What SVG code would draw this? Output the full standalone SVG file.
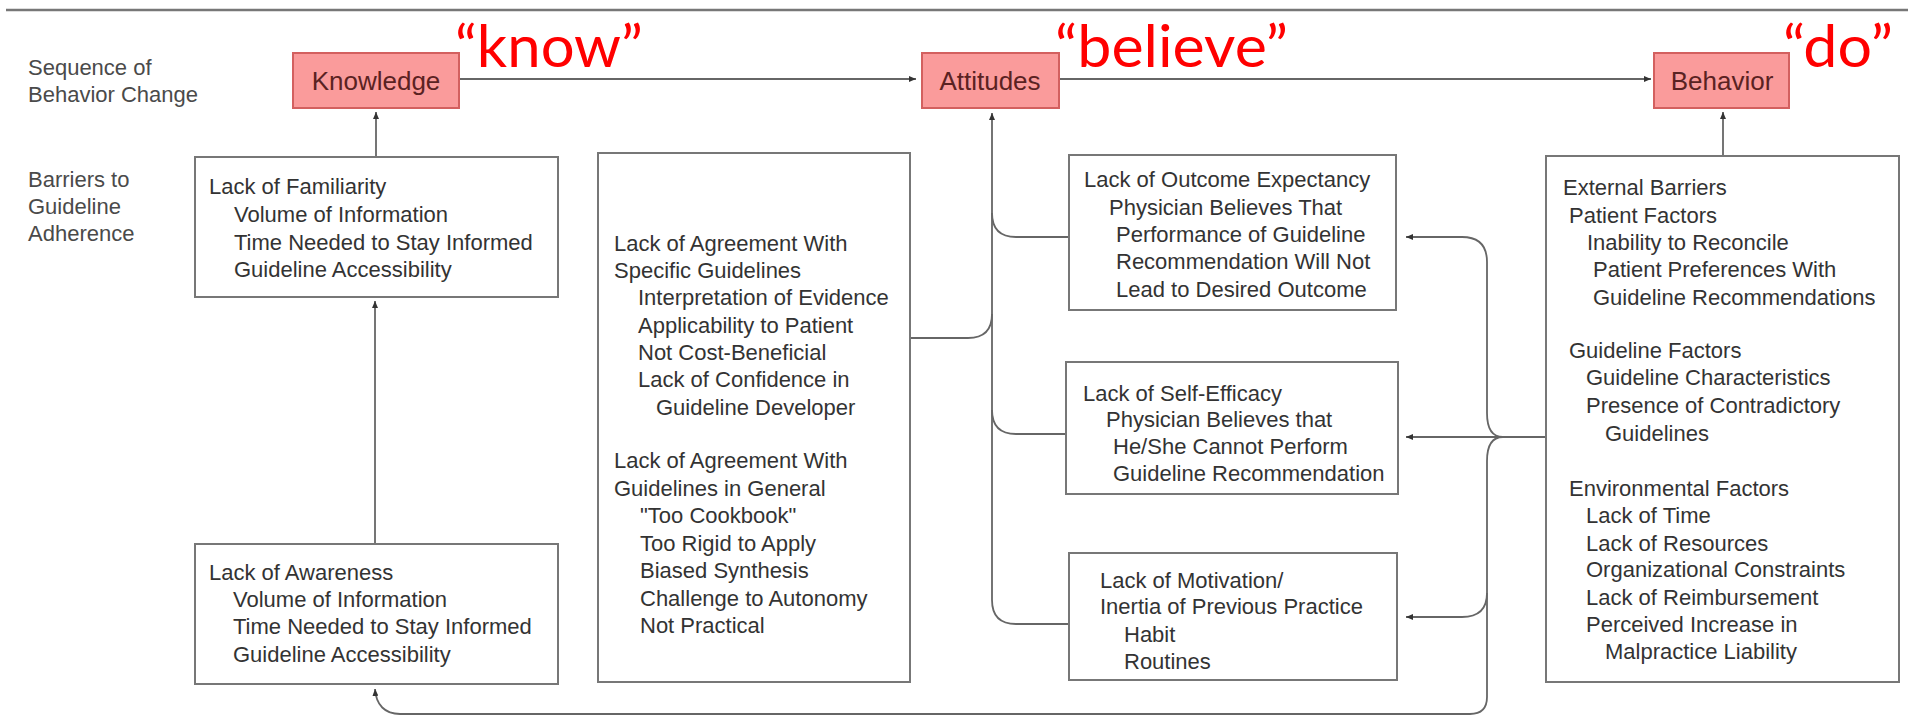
<svg xmlns="http://www.w3.org/2000/svg" width="1915" height="721" viewBox="0 0 1915 721">
  <defs>
    <marker id="arrow" markerUnits="userSpaceOnUse" markerWidth="8" markerHeight="6" refX="7" refY="3" orient="auto">
      <path d="M0,0 L7,3 L0,6 z" fill="#333"/>
    </marker>
    <style>
      .stage rect { fill: #fa9b9b; stroke: #d3605f; stroke-width: 2; }
      .stage text { font-family: "Liberation Sans", Arial, sans-serif; font-size: 26px; fill: #5a2222; text-anchor: middle; }
      .barrier rect { fill: #ffffff; stroke: #777777; stroke-width: 2; }
      .barrier text, .side { font-family: "Liberation Sans", Arial, sans-serif; font-size: 22px; fill: #333333; }
      .side { fill: #4a4a4a; }
      .conn path { fill: none; stroke: #666666; stroke-width: 1.8; }
      .conn .arr { marker-end: url(#arrow); }
      .word { font-family: Lato, "Noto Sans", sans-serif; font-size: 58px; fill: #ff0000; }
    </style>
  </defs>

  <rect width="1915" height="721" fill="#ffffff"/>
  <!-- header rule -->
  <line x1="6" y1="10" x2="1908" y2="10" stroke="#777777" stroke-width="2.5"/>

  <!-- row labels -->
  <text class="side" x="28" y="75">Sequence of</text>
  <text class="side" x="28" y="102">Behavior Change</text>
  <text class="side" x="28" y="187">Barriers to</text>
  <text class="side" x="28" y="214">Guideline</text>
  <text class="side" x="28" y="241">Adherence</text>

  <!-- connectors -->
  <g id="connectors" class="conn">
    <path class="arr" d="M459,79 H916"/>
    <path class="arr" d="M1059,79 H1651"/>
    <path class="arr" d="M376,157 V112"/>
    <path class="arr" d="M375,544 V301"/>
    <path class="arr" d="M1723,156 V112"/>
    <!-- attitudes collector -->
    <path class="arr" d="M1069,624 H1016 Q992,624 992,600 V113"/>
    <path d="M1069,237 H1016 Q992,237 992,213"/>
    <path d="M1066,434 H1016 Q992,434 992,410"/>
    <path d="M910,338 H968 Q992,338 992,314"/>
    <!-- external barriers fan-out -->
    <path class="arr" d="M1546,437 H1406"/>
    <path class="arr" d="M1503,437 C1490,437 1487,425 1487,413 V262 Q1487,237 1462,237 H1406"/>
    <path class="arr" d="M1487,593 Q1487,617 1462,617 H1406"/>
    <path class="arr" d="M1503,437 C1490,437 1487,449 1487,461 V697 Q1487,714 1470,714 H400 C385,714 376,705 375,689"/>
  </g>

  <!-- sequence stages -->
  <g id="knowledge" class="stage">
    <rect x="293" y="53" width="166" height="55"/>
    <text x="376" y="90">Knowledge</text>
  </g>
  <g id="attitudes" class="stage">
    <rect x="922" y="53" width="137" height="55"/>
    <text x="990" y="90">Attitudes</text>
  </g>
  <g id="behavior" class="stage">
    <rect x="1654" y="53" width="135" height="55"/>
    <text x="1722" y="90">Behavior</text>
  </g>

  <!-- annotations -->
  <text class="word" x="455" y="67" textLength="188" lengthAdjust="spacingAndGlyphs">“know”</text>
  <text class="word" x="1055" y="67" textLength="233" lengthAdjust="spacingAndGlyphs">“believe”</text>
  <text class="word" x="1783" y="67" textLength="110" lengthAdjust="spacingAndGlyphs">“do”</text>

  <!-- barriers -->
  <g id="familiarity" class="barrier">
    <rect x="195" y="157" width="363" height="140"/>
    <text x="209" y="194">Lack of Familiarity</text>
    <text x="234" y="222">Volume of Information</text>
    <text x="234" y="250">Time Needed to Stay Informed</text>
    <text x="234" y="277">Guideline Accessibility</text>
  </g>
  <g id="awareness" class="barrier">
    <rect x="195" y="544" width="363" height="140"/>
    <text x="209" y="580">Lack of Awareness</text>
    <text x="233" y="607">Volume of Information</text>
    <text x="233" y="634">Time Needed to Stay Informed</text>
    <text x="233" y="662">Guideline Accessibility</text>
  </g>
  <g id="agreement" class="barrier">
    <rect x="598" y="153" width="312" height="529"/>
    <text x="614" y="251">Lack of Agreement With</text>
    <text x="614" y="278">Specific Guidelines</text>
    <text x="638" y="305">Interpretation of Evidence</text>
    <text x="638" y="333">Applicability to Patient</text>
    <text x="638" y="360">Not Cost-Beneficial</text>
    <text x="638" y="387">Lack of Confidence in</text>
    <text x="656" y="415">Guideline Developer</text>
    <text x="614" y="468">Lack of Agreement With</text>
    <text x="614" y="496">Guidelines in General</text>
    <text x="640" y="523">"Too Cookbook"</text>
    <text x="640" y="551">Too Rigid to Apply</text>
    <text x="640" y="578">Biased Synthesis</text>
    <text x="640" y="606">Challenge to Autonomy</text>
    <text x="640" y="633">Not Practical</text>
  </g>
  <g id="outcome" class="barrier">
    <rect x="1069" y="155" width="327" height="155"/>
    <text x="1084" y="187">Lack of Outcome Expectancy</text>
    <text x="1109" y="215">Physician Believes That</text>
    <text x="1116" y="242">Performance of Guideline</text>
    <text x="1116" y="269">Recommendation Will Not</text>
    <text x="1116" y="297">Lead to Desired Outcome</text>
  </g>
  <g id="self-efficacy" class="barrier">
    <rect x="1066" y="362" width="332" height="132"/>
    <text x="1083" y="401">Lack of Self-Efficacy</text>
    <text x="1106" y="427">Physician Believes that</text>
    <text x="1113" y="454">He/She Cannot Perform</text>
    <text x="1113" y="481">Guideline Recommendation</text>
  </g>
  <g id="motivation" class="barrier">
    <rect x="1069" y="553" width="328" height="127"/>
    <text x="1100" y="588">Lack of Motivation/</text>
    <text x="1100" y="614">Inertia of Previous Practice</text>
    <text x="1124" y="642">Habit</text>
    <text x="1124" y="669">Routines</text>
  </g>
  <g id="external" class="barrier">
    <rect x="1546" y="156" width="353" height="526"/>
    <text x="1563" y="195">External Barriers</text>
    <text x="1569" y="223">Patient Factors</text>
    <text x="1587" y="250">Inability to Reconcile</text>
    <text x="1593" y="277">Patient Preferences With</text>
    <text x="1593" y="305">Guideline Recommendations</text>
    <text x="1569" y="358">Guideline Factors</text>
    <text x="1586" y="385">Guideline Characteristics</text>
    <text x="1586" y="413">Presence of Contradictory</text>
    <text x="1605" y="441">Guidelines</text>
    <text x="1569" y="496">Environmental Factors</text>
    <text x="1586" y="523">Lack of Time</text>
    <text x="1586" y="551">Lack of Resources</text>
    <text x="1586" y="577">Organizational Constraints</text>
    <text x="1586" y="605">Lack of Reimbursement</text>
    <text x="1586" y="632">Perceived Increase in</text>
    <text x="1605" y="659">Malpractice Liability</text>
  </g>
</svg>
